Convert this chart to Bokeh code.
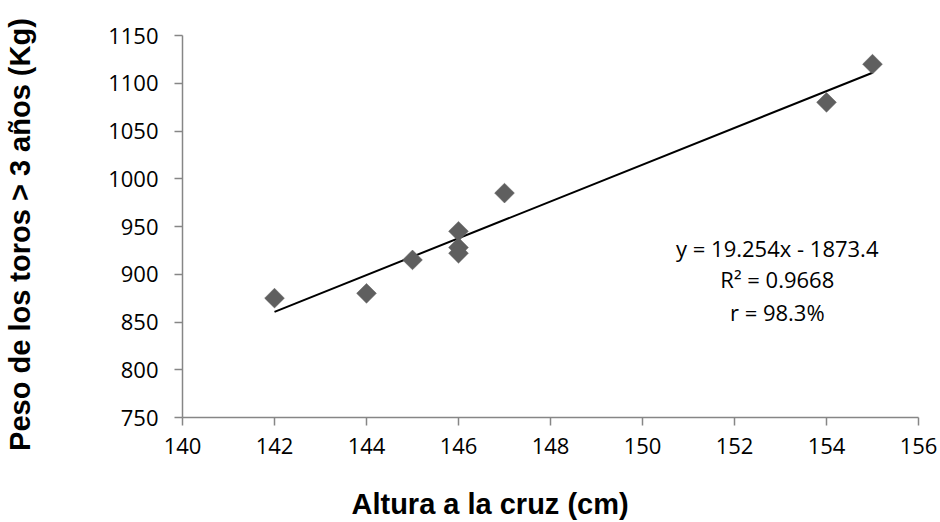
import numpy as np
from bokeh.plotting import figure
from bokeh.models import Range1d, FixedTicker, Label, LinearAxis
from bokeh.embed import file_html
from bokeh.resources import INLINE

# Data
altura = [142, 144, 145, 146, 146, 146, 147, 154, 155]
peso = [875, 880, 915, 945, 928, 922, 985, 1080, 1120]
slope = 19.254
intercept = -1873.4
eq_lines = ["y = 19.254x - 1873.4", "R\u00b2 = 0.9668", "r = 98.3%"]
x_ticks = [140, 142, 144, 146, 148, 150, 152, 154, 156]
y_ticks = [750, 800, 850, 900, 950, 1000, 1050, 1100, 1150]
x_title = "Altura a la cruz (cm)"
y_title = "Peso de los toros > 3 años (Kg)"

TICK_FONT = "Open Sans"
TITLE_FONT = "Liberation Sans"
AXIS_COLOR = "#868686"
NBSP = "\u00a0"

p = figure(width=940, height=522, output_backend="svg", toolbar_location=None,
           x_range=Range1d(140, 156), y_range=Range1d(750, 1150),
           min_border_left=182, min_border_right=22, min_border_top=35,
           min_border_bottom=105)
p.outline_line_color = None
p.xgrid.visible = False
p.ygrid.visible = False
p.background_fill_color = "white"
p.border_fill_color = "white"

for ax in (p.xaxis[0], p.yaxis[0]):
    ax.axis_line_color = AXIS_COLOR
    ax.axis_line_width = 1.5
    ax.major_tick_line_color = AXIS_COLOR
    ax.major_tick_line_width = 1.5
    ax.major_tick_in = 0
    ax.major_tick_out = 8
    ax.minor_tick_line_color = None
    ax.major_label_text_font = TICK_FONT
    ax.major_label_text_font_size = "22px"
    ax.major_label_text_color = "black"

p.xaxis[0].ticker = FixedTicker(ticks=x_ticks)
p.yaxis[0].ticker = FixedTicker(ticks=y_ticks)
p.xaxis[0].major_label_standoff = 12
p.yaxis[0].major_label_standoff = 16


def title_axis(text, standoff):
    ax = LinearAxis(ticker=FixedTicker(ticks=[]),
                    axis_line_color=None, major_tick_line_color=None,
                    minor_tick_line_color=None, major_tick_in=0,
                    major_tick_out=0, minor_tick_in=0, minor_tick_out=0,
                    major_label_standoff=0)
    ax.axis_label = text
    ax.axis_label_text_font = TITLE_FONT
    ax.axis_label_text_font_style = "bold"
    ax.axis_label_text_font_size = "29px"
    ax.axis_label_text_color = "black"
    ax.axis_label_standoff = standoff
    return ax


# Axis titles; trailing no-break spaces shift them off-centre like the original
p.add_layout(title_axis(x_title + NBSP * 15, 31), "below")
p.add_layout(title_axis(y_title + NBSP * 2, 70), "left")

# Trend line
xs = np.array([min(altura), max(altura)], dtype=float)
p.line(xs, slope * xs + intercept, line_color="black", line_width=2)

# Points
p.scatter(altura, peso, marker="square", angle=np.pi / 4, size=14,
          fill_color="#5f5f5f", line_color="#5f5f5f", line_width=0.5)

# Equation annotation
eq_x = 152.93
eq_y = [927, 895, 860]
for txt, yy in zip(eq_lines, eq_y):
    p.add_layout(Label(x=eq_x, y=yy, text=txt, text_align="center",
                       text_baseline="middle", text_font=TICK_FONT,
                       text_font_size="22px", text_color="black"))

open("out.html", "w").write(file_html(p, INLINE))
